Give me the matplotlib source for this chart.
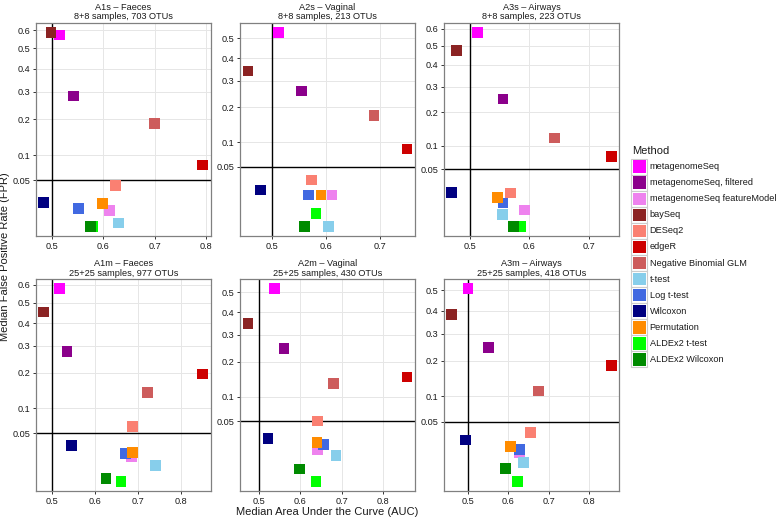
import numpy as np
import matplotlib
matplotlib.use("Agg")
import matplotlib.pyplot as plt
from matplotlib.patches import Rectangle

plt.rcParams['font.family'] = ['Liberation Sans', 'DejaVu Sans']

# ---------------- data ----------------
methods = ["metagenomeSeq", "metagenomeSeq, filtered", "metagenomeSeq featureModel",
           "baySeq", "DESeq2", "edgeR", "Negative Binomial GLM", "t-test",
           "Log t-test", "Wilcoxon", "Permutation", "ALDEx2 t-test", "ALDEx2 Wilcoxon"]
colors = ["#FF00FF", "#8B008B", "#EE82EE", "#8B2323", "#FA8072", "#CD0000", "#CD5C5C",
          "#87CEEB", "#4169E1", "#000080", "#FF8C00", "#00FF00", "#008B00"]

panel_titles = ["A1s \u2013 Faeces\n8+8 samples, 703 OTUs",
                "A2s \u2013 Vaginal\n8+8 samples, 213 OTUs",
                "A3s \u2013 Airways\n8+8 samples, 223 OTUs",
                "A1m \u2013 Faeces\n25+25 samples, 977 OTUs",
                "A2m \u2013 Vaginal\n25+25 samples, 430 OTUs",
                "A3m \u2013 Airways\n25+25 samples, 418 OTUs"]

auc_A1s = [0.515, 0.542, 0.612, 0.498, 0.624, 0.794, 0.700, 0.630, 0.552, 0.484, 0.599, 0.580, 0.575]
fpr_A1s = [0.573, 0.284, 0.0128, 0.587, 0.0421, 0.078, 0.187, 0.0044, 0.0142, 0.0203, 0.019, 0.0030, 0.0030]

auc_A2s = [0.512, 0.555, 0.611, 0.456, 0.573, 0.750, 0.689, 0.605, 0.568, 0.479, 0.591, 0.582, 0.560]
fpr_A2s = [0.531, 0.258, 0.0139, 0.341, 0.0305, 0.0843, 0.173, 0.0, 0.0139, 0.0187, 0.0139, 0.00235, 0.0]

auc_A3s = [0.513, 0.556, 0.592, 0.478, 0.568, 0.737, 0.642, 0.555, 0.556, 0.470, 0.547, 0.586, 0.573]
fpr_A3s = [0.578, 0.249, 0.0041, 0.475, 0.0172, 0.0749, 0.120, 0.0021, 0.0084, 0.0176, 0.01275, 0.0, 0.0]

auc_A1m = [0.518, 0.535, 0.685, 0.481, 0.687, 0.851, 0.723, 0.741, 0.671, 0.546, 0.688, 0.661, 0.626]
fpr_A1m = [0.578, 0.277, 0.0189, 0.454, 0.0616, 0.196, 0.140, 0.0106, 0.0217, 0.0318, 0.0228, 0.0020, 0.0030]

auc_A2m = [0.538, 0.561, 0.642, 0.474, 0.641, 0.857, 0.680, 0.686, 0.656, 0.522, 0.640, 0.638, 0.598]
fpr_A2m = [0.518, 0.246, 0.0137, 0.347, 0.051, 0.152, 0.133, 0.0092, 0.0187, 0.0257, 0.0208, 0.0, 0.00214]

auc_A3m = [0.499, 0.550, 0.627, 0.458, 0.655, 0.857, 0.675, 0.637, 0.627, 0.492, 0.605, 0.622, 0.5925]
fpr_A3m = [0.509, 0.2466, 0.0115, 0.3815, 0.0336, 0.185, 0.113, 0.0052, 0.0143, 0.0244, 0.0174, 0.00001, 0.0026]

panels_auc = [auc_A1s, auc_A2s, auc_A3s, auc_A1m, auc_A2m, auc_A3m]
panels_fpr = [fpr_A1s, fpr_A2s, fpr_A3s, fpr_A1m, fpr_A2m, fpr_A3m]

y_breaks = [0.05, 0.1, 0.2, 0.3, 0.4, 0.5, 0.6]
y_labels = ["0.05", "0.1", "0.2", "0.3", "0.4", "0.5", "0.6"]
x_breaks = [0.5, 0.6, 0.7, 0.8]
x_labels = ["0.5", "0.6", "0.7", "0.8"]
ref_auc = 0.5
ref_fpr = 0.05

# ---------------- layout ----------------
W, H = 776, 519
fig = plt.figure(figsize=(W / 100, H / 100), dpi=100)

col_lr = [(35.7, 210.7), (240.0, 415.0), (443.7, 619.3)]
row_tb = [(22.7, 236.0), (279.0, 491.0)]


def fwd(v):
    v = np.asarray(v, dtype=float)
    return np.sign(v) * np.sqrt(np.abs(v))


def inv(v):
    v = np.asarray(v, dtype=float)
    return np.sign(v) * v ** 2


for i in range(6):
    r, c = divmod(i, 3)
    l, rr = col_lr[c]
    t, b = row_tb[r]
    ax = fig.add_axes([l / W, 1 - b / H, (rr - l) / W, (b - t) / H])
    ax.set_yscale('function', functions=(fwd, inv))
    x = np.array(panels_auc[i])
    y = np.array(panels_fpr[i])

    # limits (5% expansion, like ggplot), reference lines included in training
    xs = np.append(x, ref_auc)
    xr = xs.max() - xs.min()
    ax.set_xlim(xs.min() - 0.05 * xr, xs.max() + 0.05 * xr)
    ts = fwd(np.append(y, ref_fpr))
    tr = ts.max() - ts.min()
    ax.set_ylim(inv(ts.min() - 0.05 * tr), inv(ts.max() + 0.05 * tr))

    ax.grid(True, color="#e6e6e6", lw=0.7, zorder=0)
    ax.set_axisbelow(True)
    ax.axvline(ref_auc, color="black", lw=1.0, zorder=2)
    ax.axhline(ref_fpr, color="black", lw=1.0, zorder=2)
    for k in range(len(methods)):
        ax.scatter(x[k], y[k], marker='s', s=58, color=colors[k],
                   edgecolors='none', zorder=3 + k * 0.01)

    ylo, yhi = ax.get_ylim()
    yb = [(v, lab) for v, lab in zip(y_breaks, y_labels) if ylo <= v <= yhi]
    ax.set_yticks([v for v, _ in yb])
    ax.set_yticklabels([lab for _, lab in yb])
    xlo, xhi = ax.get_xlim()
    xb = [(v, lab) for v, lab in zip(x_breaks, x_labels) if xlo <= v <= xhi]
    ax.set_xticks([v for v, _ in xb])
    ax.set_xticklabels([lab for _, lab in xb])
    ax.minorticks_off()
    ax.tick_params(axis='both', length=2.5, width=0.7, color="#333333",
                   labelsize=6.6, labelcolor="#1a1a1a", pad=1.5)
    for sp in ax.spines.values():
        sp.set_color("#808080")
        sp.set_linewidth(0.9)
    ax.set_title(panel_titles[i], fontsize=6.6, pad=2.5, linespacing=1.05,
                 color="#1a1a1a")

fig.text(327.5 / W, 1 - 512 / H, "Median Area Under the Curve (AUC)",
         ha='center', va='center', fontsize=8, color="#1a1a1a")
fig.text(5.5 / W, 1 - 257 / H, "Median False Positive Rate (FPR)",
         ha='center', va='center', rotation=90, fontsize=8, color="#1a1a1a")

# ---------------- legend ----------------
lax = fig.add_axes([0, 0, 1, 1])
lax.set_xlim(0, W)
lax.set_ylim(H, 0)
lax.axis('off')
lax.text(631.7, 151, "Method", fontsize=8, ha='left', va='center', color="#1a1a1a")
for k, (m, col) in enumerate(zip(methods, colors)):
    cy = 166.7 + k * 16.05
    lax.add_patch(Rectangle((631.3, cy - 8), 16, 16, facecolor='white',
                            edgecolor="#cccccc", lw=0.8))
    lax.add_patch(Rectangle((633.0, cy - 6.3), 12.6, 12.6, facecolor=col,
                            edgecolor='none'))
    lax.text(649.7, cy, m, fontsize=6.6, ha='left', va='center', color="#1a1a1a")

fig.savefig("out.png", dpi=100)
